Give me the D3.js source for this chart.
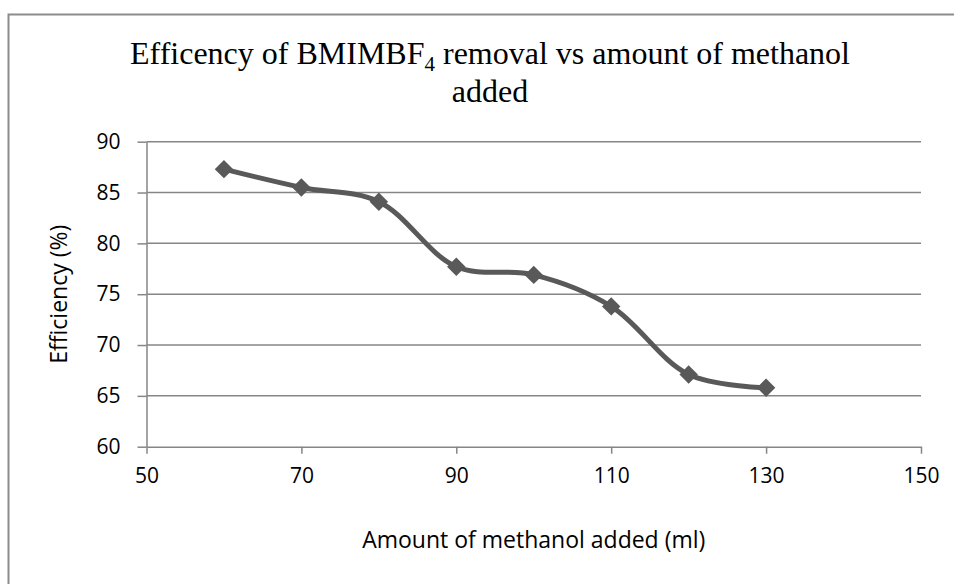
<!DOCTYPE html>
<html>
<head>
<meta charset="utf-8">
<script src="https://d3js.org/d3.v7.min.js"></script>
<style>
  body { margin: 0; background: #fff; }
  svg { display: block; }
</style>
</head>
<body>
<svg width="954" height="584"></svg>
<script>
// methanol added (ml) and removal efficiency (%)
const methanol = [60, 70, 80, 90, 100, 110, 120, 130];
const efficiency = [87.3, 85.5, 84.1, 77.7, 76.9, 73.8, 67.1, 65.8];
const xTicks = [50, 70, 90, 110, 130, 150];
const yTicks = [60, 65, 70, 75, 80, 85, 90];

const svg = d3.select("svg");
const grey = "#868686";
const lineCol = "#595959";
const sans = "'Open Sans', sans-serif";

// chart border (cropped on right / bottom)
svg.append("rect")
  .attr("x", 8.5).attr("y", 14.5)
  .attr("width", 1000).attr("height", 700)
  .attr("fill", "none").attr("stroke", "#8c8c8c").attr("stroke-width", 2);

const plotL = 146.5, plotR = 921, plotT = 141.7, plotB = 446.7;
const x = d3.scaleLinear().domain([50, 150]).range([plotL, plotR]);
const y = d3.scaleLinear().domain([60, 90]).range([plotB, plotT]);

// gridlines
svg.append("g").selectAll("line")
  .data(yTicks.slice(1))
  .join("line")
  .attr("x1", plotL).attr("x2", plotR)
  .attr("y1", d => y(d)).attr("y2", d => y(d))
  .attr("stroke", grey).attr("stroke-width", 1.5);

// y axis
const yAxis = svg.append("g")
  .attr("transform", `translate(${plotL},0)`)
  .call(d3.axisLeft(y).tickValues(yTicks).tickSize(9).tickPadding(17).tickSizeOuter(0));
yAxis.select(".domain").attr("stroke", grey).attr("stroke-width", 1.5);
yAxis.selectAll(".tick line").attr("stroke", grey).attr("stroke-width", 1.5);
yAxis.selectAll("text").attr("font-family", sans).attr("font-size", 21).attr("fill", "#000");

// x axis
const xAxis = svg.append("g")
  .attr("transform", `translate(0,${plotB})`)
  .call(d3.axisBottom(x).tickValues(xTicks).tickSize(7).tickPadding(14).tickSizeOuter(0));
xAxis.select(".domain").attr("stroke", grey).attr("stroke-width", 1.5);
xAxis.selectAll(".tick line").attr("stroke", grey).attr("stroke-width", 1.5);
xAxis.selectAll("text").attr("font-family", sans).attr("font-size", 21).attr("fill", "#000");

// axis titles
svg.append("text")
  .attr("x", (plotL + plotR) / 2).attr("y", 548)
  .attr("text-anchor", "middle")
  .attr("font-family", sans).attr("font-size", 23)
  .text("Amount of methanol added (ml)");

svg.append("text")
  .attr("transform", `translate(67,${(plotT + plotB) / 2}) rotate(-90)`)
  .attr("text-anchor", "middle")
  .attr("font-family", sans).attr("font-size", 23)
  .text("Efficiency (%)");

// title
const title = svg.append("text")
  .attr("text-anchor", "middle")
  .attr("font-family", "'Liberation Serif', 'Times New Roman', serif")
  .attr("font-size", 32);
const l1 = title.append("tspan").attr("x", 490).attr("y", 64);
l1.append("tspan").text("Efficency of BMIMBF");
l1.append("tspan").attr("font-size", 21).attr("dy", 7).text("4");
l1.append("tspan").attr("dy", -7).text(" removal vs amount of methanol");
title.append("tspan").attr("x", 490).attr("y", 102).text("added");

// series
const pts = methanol.map((m, i) => [m, efficiency[i]]);
svg.append("path")
  .datum(pts)
  .attr("fill", "none")
  .attr("stroke", lineCol)
  .attr("stroke-width", 5)
  .attr("stroke-linejoin", "round")
  .attr("d", d3.line().x(d => x(d[0])).y(d => y(d[1])).curve(d3.curveCatmullRom.alpha(0.5)));

svg.append("g").selectAll("path")
  .data(pts)
  .join("path")
  .attr("transform", d => `translate(${x(d[0])},${y(d[1])}) rotate(45)`)
  .attr("d", d3.symbol(d3.symbolSquare, 170))
  .attr("fill", lineCol);
</script>
</body>
</html>
